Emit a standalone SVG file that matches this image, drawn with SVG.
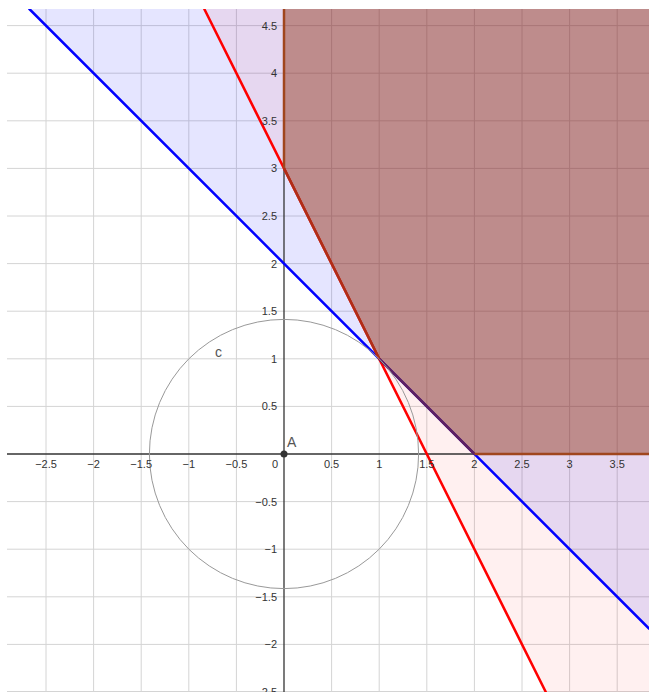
<svg xmlns="http://www.w3.org/2000/svg" width="649" height="696" viewBox="0 0 649 696">
<style>
.grid line{stroke:#d4d4d4;stroke-width:1}
.lbl{font-family:"Liberation Sans",Arial,sans-serif;font-size:11px;fill:#333}
.xl{text-anchor:middle}
.yl{text-anchor:end}
.name{font-family:"Liberation Sans",Arial,sans-serif;font-size:14px;fill:#555}
</style>
<defs>
<clipPath id="plot"><rect x="7" y="9" width="642" height="683"/></clipPath>
</defs>
<rect width="649" height="696" fill="#ffffff"/>
<g clip-path="url(#plot)">
<g id="grid" class="grid">
<line x1="46" y1="9" x2="46" y2="692"/>
<line x1="93.6" y1="9" x2="93.6" y2="692"/>
<line x1="141.2" y1="9" x2="141.2" y2="692"/>
<line x1="188.8" y1="9" x2="188.8" y2="692"/>
<line x1="236.4" y1="9" x2="236.4" y2="692"/>
<line x1="331.6" y1="9" x2="331.6" y2="692"/>
<line x1="379.2" y1="9" x2="379.2" y2="692"/>
<line x1="426.8" y1="9" x2="426.8" y2="692"/>
<line x1="474.4" y1="9" x2="474.4" y2="692"/>
<line x1="522" y1="9" x2="522" y2="692"/>
<line x1="569.6" y1="9" x2="569.6" y2="692"/>
<line x1="617.2" y1="9" x2="617.2" y2="692"/>
<line x1="7" y1="25.6" x2="649" y2="25.6"/>
<line x1="7" y1="73.2" x2="649" y2="73.2"/>
<line x1="7" y1="120.8" x2="649" y2="120.8"/>
<line x1="7" y1="168.4" x2="649" y2="168.4"/>
<line x1="7" y1="216" x2="649" y2="216"/>
<line x1="7" y1="263.6" x2="649" y2="263.6"/>
<line x1="7" y1="311.2" x2="649" y2="311.2"/>
<line x1="7" y1="358.8" x2="649" y2="358.8"/>
<line x1="7" y1="406.4" x2="649" y2="406.4"/>
<line x1="7" y1="501.6" x2="649" y2="501.6"/>
<line x1="7" y1="549.2" x2="649" y2="549.2"/>
<line x1="7" y1="596.8" x2="649" y2="596.8"/>
<line x1="7" y1="644.4" x2="649" y2="644.4"/>
<line x1="7" y1="691.5" x2="649" y2="691.5"/>
</g>
<g id="regions">
<polygon id="half-blue" points="29.4,9 649,9 649,628.6" fill="#0000ff" fill-opacity="0.1"/>
<polygon id="half-red" points="204.3,9 649,9 649,692 545.8,692" fill="#ff0000" fill-opacity="0.06"/>
</g>
<g id="axes" stroke="#333" stroke-width="1.3">
<line x1="7" y1="454" x2="649" y2="454"/>
<line x1="284" y1="9" x2="284" y2="692"/>
</g>
<g id="connectors" fill="none" stroke-width="2.5" stroke-linecap="round">
<line id="line-blue" x1="29.4" y1="9" x2="649" y2="628.6" stroke="#0000ff"/>
<line id="line-red" x1="204.3" y1="9" x2="545.8" y2="692" stroke="#ff0000"/>
</g>
<g id="feasible">
<polygon points="284,9 649,9 649,454 474.4,454 379.2,358.8 284,168.4" fill="#892302" fill-opacity="0.42"/>
<line x1="284" y1="9" x2="284" y2="168.4" stroke="#a0461e" stroke-width="2.5"/>
<line x1="284" y1="168.4" x2="379.2" y2="358.8" stroke="#b02e18" stroke-width="2.5"/>
<line x1="379.2" y1="358.8" x2="474.4" y2="454" stroke="#5e2060" stroke-width="2.5"/>
<line x1="474.4" y1="454" x2="649" y2="454" stroke="#a0461e" stroke-width="2.5"/>
</g>
<g id="circle-c">
<circle cx="284" cy="454" r="134.6" fill="none" stroke="#999" stroke-width="1"/>
<text class="name" x="215" y="357">c</text>
</g>
<g id="xlabels" class="lbl xl">
<text x="46" y="468">−2.5</text>
<text x="93.6" y="468">−2</text>
<text x="141.2" y="468">−1.5</text>
<text x="188.8" y="468">−1</text>
<text x="236.4" y="468">−0.5</text>
<text x="275" y="468">0</text>
<text x="331.6" y="468">0.5</text>
<text x="379.2" y="468">1</text>
<text x="426.8" y="468">1.5</text>
<text x="474.4" y="468">2</text>
<text x="522" y="468">2.5</text>
<text x="569.6" y="468">3</text>
<text x="617.2" y="468">3.5</text>
</g>
<g id="ylabels" class="lbl yl">
<text x="277" y="29.6">4.5</text>
<text x="277" y="77.2">4</text>
<text x="277" y="124.8">3.5</text>
<text x="277" y="172.4">3</text>
<text x="277" y="220">2.5</text>
<text x="277" y="267.6">2</text>
<text x="277" y="315.2">1.5</text>
<text x="277" y="362.8">1</text>
<text x="277" y="410.4">0.5</text>
<text x="277" y="505.6">−0.5</text>
<text x="277" y="553.2">−1</text>
<text x="277" y="600.8">−1.5</text>
<text x="277" y="648.4">−2</text>
<text x="277" y="696">−2.5</text>
</g>
<g id="point-A">
<circle cx="284" cy="454" r="3.5" fill="#333"/>
<text class="name" x="287" y="447">A</text>
</g>
</g>
</svg>
